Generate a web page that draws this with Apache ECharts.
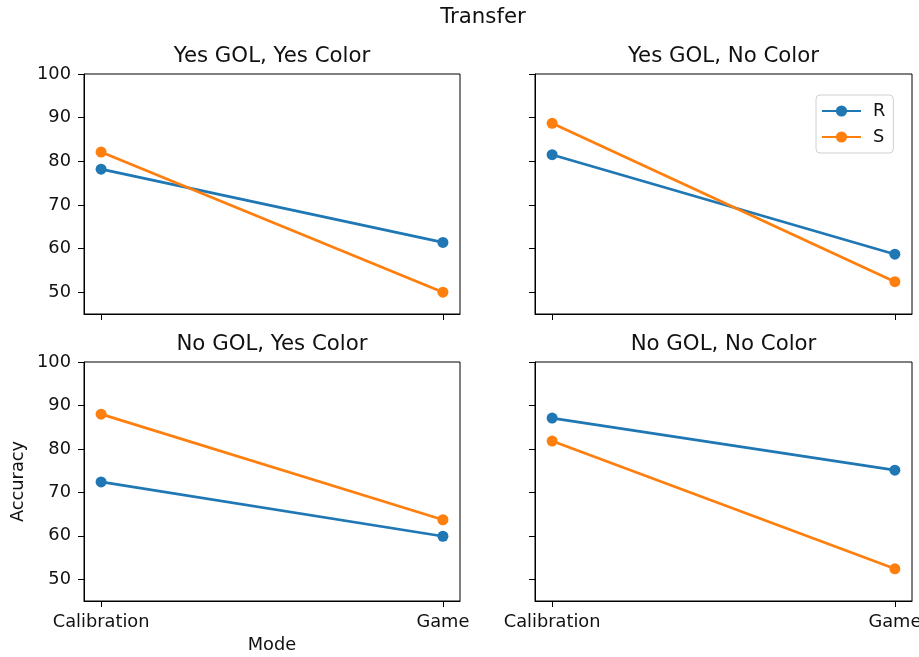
<!DOCTYPE html>
<html>
<head>
<meta charset="utf-8">
<script src="https://cdn.jsdelivr.net/npm/echarts@6/dist/echarts.min.js"></script>
<style>
  html, body { margin: 0; padding: 0; background: #fff; }
  #chart { width: 919px; height: 657px; }
</style>
</head>
<body>
<div id="chart"></div>
<script>
// Accuracy by mode, for each GOL / Color condition
const modes = ['Calibration', 'Game'];
const panelTitles = ['Yes GOL, Yes Color', 'Yes GOL, No Color', 'No GOL, Yes Color', 'No GOL, No Color'];
const seriesNames = ['R', 'S'];
// one pair [Calibration, Game] per panel, in panel order
const rValues = [[78.2, 61.4], [81.5, 58.7], [72.4, 59.9], [87.1, 75.1]];
const sValues = [[82.1, 50.0], [88.7, 52.4], [88.0, 63.7], [81.8, 52.4]];
const yTicks = [50, 60, 70, 80, 90, 100];
const yRange = [45, 100];

const FONT = 'DejaVu Sans';
const INK = '#111';
const colors = ['#1f77b4', '#ff7f0e'];

// panel boxes: left, top, width, height
const boxes = [
  { left: 84, top: 74, width: 376, height: 240 },
  { left: 535, top: 74, width: 377, height: 240 },
  { left: 84, top: 362, width: 376, height: 239 },
  { left: 535, top: 362, width: 377, height: 239 }
];

const grids = boxes.map(b => ({
  left: b.left, top: b.top, width: b.width, height: b.height,
  outerBoundsMode: 'none', containLabel: false,
  show: true, borderColor: '#000', borderWidth: 1, backgroundColor: 'transparent'
}));

const xAxes = boxes.map((b, i) => ({
  type: 'value', gridIndex: i, min: -0.05, max: 1.05,
  name: i === 2 ? 'Mode' : '', nameLocation: 'middle', nameGap: 35, nameMoveOverlap: false,
  nameTextStyle: { fontFamily: FONT, fontSize: 17.8, color: INK },
  axisLine: { show: true, onZero: false, lineStyle: { color: '#000', width: 1 } },
  axisTick: { show: true, length: 6, customValues: [0, 1], lineStyle: { color: '#000', width: 1 } },
  axisLabel: {
    show: i >= 2, customValues: [0, 1], margin: 12,
    fontFamily: FONT, fontSize: 17.8, color: INK,
    formatter: v => modes[Math.round(v)]
  },
  splitLine: { show: false }
}));

const yAxes = boxes.map((b, i) => ({
  type: 'value', gridIndex: i, min: yRange[0], max: yRange[1],
  name: i === 2 ? 'Accuracy' : '', nameLocation: 'middle', nameGap: 57, nameMoveOverlap: false,
  nameTextStyle: { fontFamily: FONT, fontSize: 17.8, color: INK },
  axisLine: { show: true, onZero: false, lineStyle: { color: '#000', width: 1 } },
  axisTick: { show: true, length: 6, customValues: yTicks, lineStyle: { color: '#000', width: 1 } },
  axisLabel: {
    show: i % 2 === 0, customValues: yTicks, margin: 13,
    fontFamily: FONT, fontSize: 17.8, color: INK
  },
  splitLine: { show: false }
}));

const series = [];
boxes.forEach((b, i) => {
  [rValues, sValues].forEach((vals, k) => {
    series.push({
      name: seriesNames[k], type: 'line',
      xAxisIndex: i, yAxisIndex: i,
      data: vals[i].map((v, j) => [j, v]),
      symbol: 'circle', symbolSize: 11, showAllSymbol: true,
      itemStyle: { color: colors[k] },
      lineStyle: { color: colors[k], width: 2.7 },
      emphasis: { disabled: true },
      z: 2 + k
    });
  });
});

const titles = [{
  text: 'Transfer', left: 483, top: 5, textAlign: 'center', padding: 0,
  textStyle: { fontFamily: FONT, fontSize: 21.3, fontWeight: 'normal', color: INK, lineHeight: 24 }
}].concat(boxes.map((b, i) => ({
  text: panelTitles[i], left: b.left + b.width / 2, top: b.top - 30, textAlign: 'center', padding: 0,
  textStyle: { fontFamily: FONT, fontSize: 21.3, fontWeight: 'normal', color: INK, lineHeight: 24 }
})));

const chart = echarts.init(document.getElementById('chart'), null, { renderer: 'canvas' });
chart.setOption({
  animation: false,
  backgroundColor: '#fff',
  title: titles,
  legend: {
    data: seriesNames,
    orient: 'vertical',
    left: 816, top: 95,
    padding: [7, 8, 7, 5],
    itemWidth: 39, itemHeight: 14, itemGap: 8,
    backgroundColor: 'rgba(255,255,255,0.8)',
    borderColor: '#d0d0d0', borderWidth: 1, borderRadius: 4,
    textStyle: { fontFamily: FONT, fontSize: 17.8, color: INK, lineHeight: 18, padding: [0, 0, 0, 7] }
  },
  grid: grids,
  xAxis: xAxes,
  yAxis: yAxes,
  series: series
});
</script>
</body>
</html>
